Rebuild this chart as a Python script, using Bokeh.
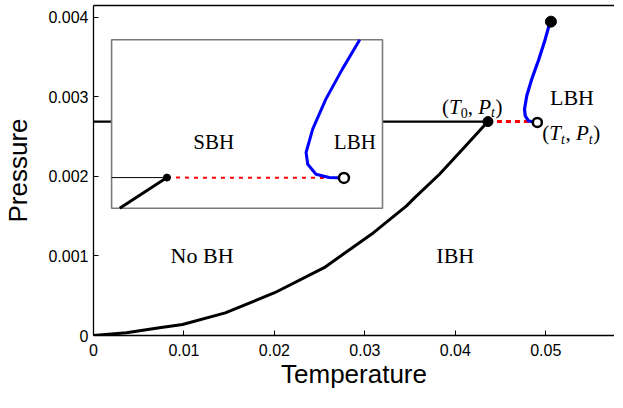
from bokeh.plotting import figure
from bokeh.models import Range1d, FixedTicker, LinearAxis
from bokeh.core.properties import value
from bokeh.embed import file_html
from bokeh.resources import INLINE

# ---------------- data (main diagram) ----------------
# coexistence curve No BH / IBH, ending at (T0, Pt)
curve_T = [0.0, 0.00364, 0.00729, 0.00984, 0.01457, 0.02003, 0.02550, 0.03096,
           0.03461, 0.03552, 0.03825, 0.04098, 0.04361]
curve_P = [0.0, 0.000034, 0.000097, 0.000139, 0.000285, 0.000538, 0.000853, 0.001293,
           0.001630, 0.001734, 0.002028, 0.002364, 0.002691]
T0 = 0.04361
Pt = 0.00269
Tt = 0.04907
Pt_open = 0.00268
# LBH branch from (Tt, Pt) up to the end point
blue_T = [0.04907, 0.04809, 0.04773, 0.04765, 0.04790, 0.04845, 0.04918, 0.04984, 0.05046, 0.05057]
blue_P = [0.002670, 0.002700, 0.002763, 0.002846, 0.003015, 0.003224, 0.003456, 0.003687, 0.003938, 0.003947]
end_T = 0.05057
end_P = 0.003947

y_ticks = [0, 0.001, 0.002, 0.003, 0.004]
y_tick_labels = ["0", "0.001", "0.002", "0.003", "0.004"]
x_ticks = [0, 0.01, 0.02, 0.03, 0.04, 0.05]
x_tick_labels = ["0", "0.01", "0.02", "0.03", "0.04", "0.05"]

# ---------------- data (inset, in inset units 0..1) ----------------
inset_line_u = [0.03, 0.2044]
inset_line_v = [0.0, 0.182]
inset_h_u = [0.0, 0.2044]
inset_h_v = [0.182, 0.182]
inset_dot_u, inset_dot_v = 0.2044, 0.182
inset_open_u, inset_open_v = 0.8577, 0.180
inset_blue_u = [0.8577, 0.8029, 0.7544, 0.7241, 0.7179, 0.7423, 0.7909, 0.8518, 0.916]
inset_blue_v = [0.180, 0.1823, 0.2019, 0.2613, 0.3308, 0.4691, 0.6473, 0.8254, 1.0]

# inset box location in main data coordinates
INS_X0, INS_X1 = 0.0020, 0.03195
INS_Y0, INS_Y1 = 0.0016, 0.00372


def ix(u):
    return [INS_X0 + a * (INS_X1 - INS_X0) for a in u]


def iy(v):
    return [INS_Y0 + a * (INS_Y1 - INS_Y0) for a in v]


SERIF = value("Liberation Serif")
SANS = "Liberation Sans"

p = figure(width=614, height=392, output_backend="svg", toolbar_location=None,
           x_range=Range1d(0, 0.0576), y_range=Range1d(0, 0.00415),
           min_border_left=87, min_border_right=0, min_border_top=5, min_border_bottom=57)
p.outline_line_color = None
p.xgrid.visible = False
p.ygrid.visible = False
p.background_fill_color = "white"

for ax in (p.xaxis[0], p.yaxis[0]):
    ax.axis_line_width = 1.3
    ax.axis_line_color = "black"
    ax.major_tick_in = 5
    ax.major_tick_out = 0
    ax.minor_tick_in = 0
    ax.minor_tick_out = 0
    ax.major_tick_line_color = "black"
    ax.minor_tick_line_color = None
    ax.major_label_text_font = SANS
    ax.major_label_text_font_size = "16px"
    ax.major_label_text_color = "black"
    ax.axis_label_text_font = SANS
    ax.axis_label_text_font_style = "normal"
    ax.axis_label_text_font_size = "26px"
    ax.axis_label_text_color = "black"

p.xaxis.ticker = FixedTicker(ticks=x_ticks)
p.xaxis.major_label_overrides = {t: l for t, l in zip(x_ticks, x_tick_labels)}
p.yaxis.ticker = FixedTicker(ticks=y_ticks)
p.yaxis.major_label_overrides = {t: l for t, l in zip(y_ticks, y_tick_labels)}
p.xaxis.axis_label = "Temperature"
p.yaxis.axis_label = "Pressure"
p.xaxis.major_label_standoff = 8
p.yaxis.major_label_standoff = 5
p.xaxis.axis_label_standoff = 0
p.yaxis.axis_label_standoff = 12

top_axis = LinearAxis(ticker=FixedTicker(ticks=[]), major_label_text_font_size="0px",
                      major_tick_line_color=None, minor_tick_line_color=None,
                      major_tick_in=0, major_tick_out=0, minor_tick_in=0, minor_tick_out=0,
                      major_label_standoff=0, axis_line_width=1.3, axis_line_color="black")
p.add_layout(top_axis, "above")

# ---- main: horizontal line at Pt (partly hidden by inset) ----
p.line([0, T0], [Pt, Pt], line_color="black", line_width=2.3)
p.line(curve_T, curve_P, line_color="black", line_width=3, line_join="round")

# ---- inset ----
p.quad(left=[INS_X0], right=[INS_X1], bottom=[INS_Y0], top=[INS_Y1],
       fill_color="white", line_color="#7a7a7a", line_width=1.6)
p.line(ix(inset_h_u), iy(inset_h_v), line_color="black", line_width=1)
p.line(ix(inset_line_u), iy(inset_line_v), line_color="black", line_width=3)
p.line(ix([inset_dot_u, inset_open_u]), iy([inset_dot_v, inset_open_v]),
       line_color="red", line_width=2, line_dash="4 5")
p.line(ix(inset_blue_u), iy(inset_blue_v), line_color="blue", line_width=3, line_join="round")
p.scatter(ix([inset_dot_u]), iy([inset_dot_v]), size=7, marker="circle",
          fill_color="black", line_color="black")
p.scatter(ix([inset_open_u]), iy([inset_open_v]), size=10, marker="circle",
          fill_color="white", line_color="black", line_width=2.5)
p.text(ix([0.377]), iy([0.396]), text=["SBH"], text_font=SERIF, text_font_size="21px",
       text_align="center", text_baseline="middle", text_color="black")
p.text(ix([0.898]), iy([0.396]), text=["LBH"], text_font=SERIF, text_font_size="21px",
       text_align="center", text_baseline="middle", text_color="black")

# ---- main: transition line, LBH branch, points ----
p.line([T0, Tt], [Pt, Pt], line_color="red", line_width=3, line_dash="5 4")
p.line(blue_T, blue_P, line_color="blue", line_width=3.2, line_join="round")
p.scatter([T0], [Pt], size=10, marker="circle", fill_color="black", line_color="black")
p.scatter([end_T], [end_P], size=11, marker="circle", fill_color="black", line_color="black")
p.scatter([Tt], [Pt_open], size=9, marker="circle", fill_color="white",
          line_color="black", line_width=2.5)

# region labels
for x, y, t in [(0.012, 0.001, "No BH"), (0.040, 0.001, "IBH"), (0.0529, 0.00299, "LBH")]:
    p.text([x], [y], text=[t], text_font=SERIF, text_font_size="22px",
           text_align="center", text_baseline="middle", text_color="black")

# math labels built from pieces: (text, italic, subscript, advance in em)
MAIN, SUB = 21, 14


def math_label(x, y, pieces, x0, y0):
    off = x0
    for txt, ital, sub, adv in pieces:
        fs = SUB if sub else MAIN
        p.text([x], [y], text=[txt], x_offset=off, y_offset=y0 + (6 if sub else 0),
               text_font=SERIF, text_font_size=f"{fs}px",
               text_font_style="italic" if ital else "normal",
               text_align="left", text_baseline="middle", text_color="black")
        off += adv * fs


lab_T0 = [("(", False, False, 0.333), ("T", True, False, 0.556), ("0", False, True, 0.5),
          (",", False, False, 0.5), ("P", True, False, 0.611), ("t", True, True, 0.32),
          (")", False, False, 0.333)]
lab_Tt = [("(", False, False, 0.333), ("T", True, False, 0.556), ("t", True, True, 0.32),
          (",", False, False, 0.5), ("P", True, False, 0.611), ("t", True, True, 0.32),
          (")", False, False, 0.333)]
math_label(T0, Pt, lab_T0, -46, -15)
math_label(Tt, Pt_open, lab_Tt, 5, 11)

open("out.html", "w").write(file_html(p, INLINE))
